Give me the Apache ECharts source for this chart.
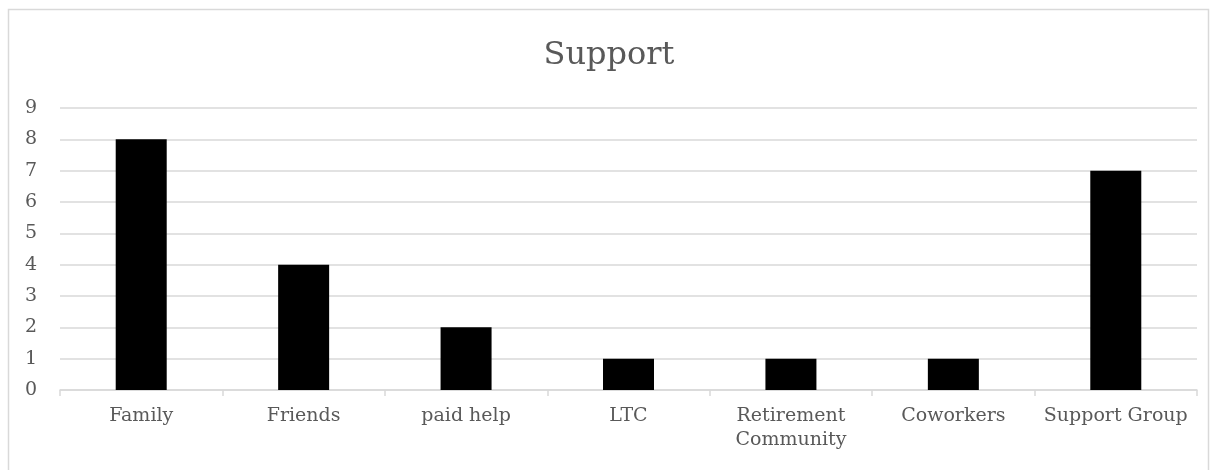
<!DOCTYPE html>
<html><head><meta charset="utf-8">
<script src="https://cdn.jsdelivr.net/npm/echarts@6/dist/echarts.min.js"></script>
<style>html,body{margin:0;padding:0;background:#fff}#c{width:1218px;height:470px}</style>
</head><body><div id="c"></div>
<script>
const categories = ['Family', 'Friends', 'paid help', 'LTC', 'Retirement\nCommunity', 'Coworkers', 'Support Group'];
const values = [8, 4, 2, 1, 1, 1, 7];
const yTicks = [0, 1, 2, 3, 4, 5, 6, 7, 8, 9];
const FONT = 'DejaVu Serif';
const chart = echarts.init(document.getElementById('c'), null, {renderer: 'canvas'});
chart.setOption({
  animation: false,
  backgroundColor: '#fff',
  graphic: [{type: 'rect', shape: {x: 8.5, y: 9.5, width: 1200, height: 470}, style: {fill: 'none', stroke: '#d9d9d9', lineWidth: 1.5}, silent: true}],
  title: {text: 'Support', left: 'center', top: 35, textStyle: {fontFamily: FONT, fontSize: 32, fontWeight: 'normal', color: '#595959'}},
  grid: {left: 60, right: 21, top: 108, bottom: 80, containLabel: false, outerBoundsMode: 'none'},
  xAxis: {
    type: 'category', data: categories,
    axisLine: {lineStyle: {color: '#d9d9d9', width: 1.5}},
    axisTick: {show: true, length: 6, lineStyle: {color: '#d9d9d9', width: 1.5}},
    axisLabel: {fontFamily: FONT, fontSize: 19, color: '#595959', margin: 14, interval: 0, lineHeight: 24}
  },
  yAxis: {
    type: 'value', min: yTicks[0], max: yTicks[yTicks.length - 1], interval: 1,
    axisLine: {show: false}, axisTick: {show: false},
    splitLine: {lineStyle: {color: '#d9d9d9', width: 1.5}},
    axisLabel: {fontFamily: FONT, fontSize: 19, color: '#595959', margin: 29, align: 'center'}
  },
  series: [{type: 'bar', data: values, barWidth: 51, itemStyle: {color: '#000'}}]
});
</script></body></html>
